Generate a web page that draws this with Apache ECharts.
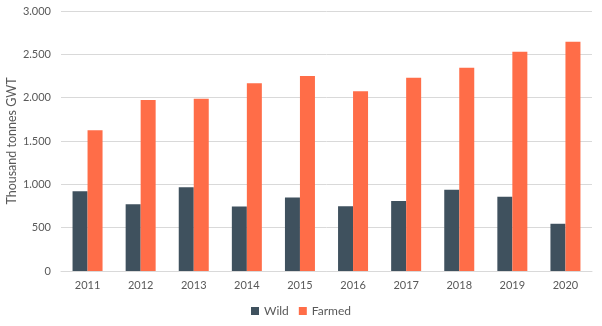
<!DOCTYPE html>
<html><head><meta charset="utf-8">
<script src="https://cdn.jsdelivr.net/npm/echarts@6/dist/echarts.min.js"></script>
<style>html,body{margin:0;padding:0;background:#fff}#c{width:602px;height:326px}</style>
</head><body><div id="c"></div>
<script>
var years = ['2011','2012','2013','2014','2015','2016','2017','2018','2019','2020'];
var wild = [920, 770, 966, 745, 848, 748, 808, 938, 858, 545];
var farmed = [1625, 1972, 1988, 2165, 2250, 2075, 2230, 2346, 2531, 2646];
var yTicks = {min: 0, max: 3000, interval: 500};
var chart = echarts.init(document.getElementById('c'));
var font = 'Lato';
chart.setOption({
  animation: false,
  textStyle: {fontFamily: font},
  grid: {left: 61, right: 10, top: 11, bottom: 55, containLabel: false, outerBoundsMode: 'none'},
  legend: {
    bottom: 4, left: 'center', itemWidth: 8, itemHeight: 8, itemGap: 10,
    icon: 'rect',
    textStyle: {color: '#595959', fontSize: 12, fontFamily: font},
    data: ['Wild', 'Farmed']
  },
  xAxis: {
    type: 'category', data: years,
    axisLine: {lineStyle: {color: '#d9d9d9'}},
    axisTick: {show: false},
    axisLabel: {color: '#595959', fontSize: 11, margin: 9}
  },
  yAxis: {
    type: 'value', min: yTicks.min, max: yTicks.max, interval: yTicks.interval,
    name: 'Thousand tonnes GWT', nameLocation: 'middle', nameGap: 43, nameMoveOverlap: false,
    nameTextStyle: {color: '#595959', fontSize: 12.5},
    axisLine: {show: false}, axisTick: {show: false},
    splitLine: {lineStyle: {color: '#d9d9d9'}},
    axisLabel: {color: '#595959', fontSize: 11, margin: 10,
      formatter: function (v) { return v.toLocaleString('en-US').replace(/,/g, '.'); }}
  },
  series: [
    {name: 'Wild', type: 'bar', data: wild, barWidth: 15, barGap: '0%', itemStyle: {color: '#3F515E'}},
    {name: 'Farmed', type: 'bar', data: farmed, barWidth: 15, barGap: '0%', itemStyle: {color: '#FF6D48'}}
  ]
});
</script></body></html>
